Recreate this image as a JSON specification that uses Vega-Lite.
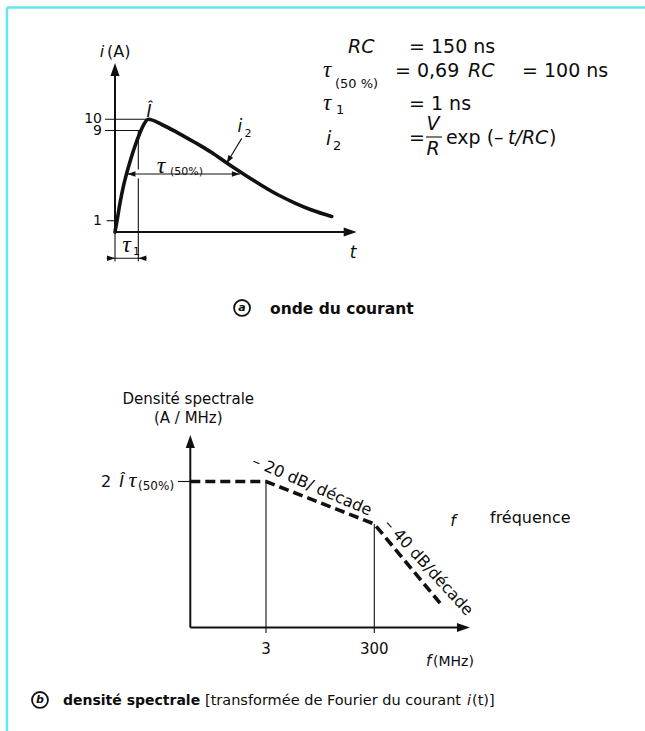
{
  "$schema": "https://vega.github.io/schema/vega-lite/v6.json",
  "width": 645,
  "height": 731,
  "autosize": {"type": "none"},
  "padding": 0,
  "background": "white",
  "config": {"view": {"stroke": null}, "font": "DejaVu Sans", "text": {"font": "DejaVu Sans", "color": "#0d0d0d"}},
  "resolve": {"scale": {"x": "independent", "y": "independent"}},
  "layer": [
    {
      "encoding": {
        "x": {"field": "t", "type": "quantitative", "scale": {"domain": [0, 220], "range": [115, 357], "zero": false, "nice": false}, "axis": null},
        "y": {"field": "i", "type": "quantitative", "scale": {"domain": [0, 10], "range": [232, 119.3], "zero": false, "nice": false}, "axis": null}
      },
      "layer": [
        {
          "data": {"values": [
            {"t": -98.2, "i": 19.92, "t_end": 481.8, "i_end": 19.92},
            {"t": -98.2, "i": 19.92, "t_end": -98.2, "i_end": -44.3}
          ]},
          "mark": {"type": "rule", "color": "#5fe9ef", "strokeWidth": 2.5},
          "encoding": {"x2": {"field": "t_end"}, "y2": {"field": "i_end"}}
        },
        {
          "data": {"values": [
            {"t": 0, "i": 0, "t_end": 0, "i_end": 14.2},
            {"t": 0, "i": 0, "t_end": 212, "i_end": 0}
          ]},
          "mark": {"type": "rule", "color": "#111111", "strokeWidth": 2},
          "encoding": {"x2": {"field": "t_end"}, "y2": {"field": "i_end"}}
        },
        {
          "data": {"values": [
            {"t": -9.1, "i": 10, "t_end": 30.3, "i_end": 10},
            {"t": -9.1, "i": 9, "t_end": 23.5, "i_end": 9},
            {"t": -7.6, "i": 1, "t_end": 0, "i_end": 1},
            {"t": 0, "i": 0, "t_end": 0, "i_end": -2.6},
            {"t": 21.2, "i": 9.0, "t_end": 21.2, "i_end": 5.55},
            {"t": 21.2, "i": 4.75, "t_end": 21.2, "i_end": -2.6},
            {"t": -7.6, "i": -2.33, "t_end": 28.8, "i_end": -2.33},
            {"t": 11.3, "i": 5.15, "t_end": 113.5, "i_end": 5.15},
            {"t": 115.2, "i": 8.31, "t_end": 101.5, "i_end": 6.1},
            {"t": 282.7, "i": 8.43, "t_end": 297.3, "i_end": 8.43}
          ]},
          "mark": {"type": "rule", "color": "#111111", "strokeWidth": 1.1},
          "encoding": {"x2": {"field": "t_end"}, "y2": {"field": "i_end"}}
        },
        {
          "data": {"values": [
            {"t": 0, "i": 0}, {"t": 2.27, "i": 1.24}, {"t": 4.55, "i": 2.57}, {"t": 7.27, "i": 3.9},
            {"t": 10.45, "i": 5.15}, {"t": 14.09, "i": 6.39}, {"t": 18.18, "i": 7.63}, {"t": 22.27, "i": 8.7},
            {"t": 25.9, "i": 9.49}, {"t": 30.3, "i": 10}, {"t": 42.5, "i": 9.54}, {"t": 57.5, "i": 8.78},
            {"t": 72.7, "i": 7.94}, {"t": 87.9, "i": 7.05}, {"t": 103, "i": 6.03}, {"t": 118.2, "i": 5.06},
            {"t": 133.4, "i": 4.13}, {"t": 148.5, "i": 3.28}, {"t": 163.6, "i": 2.57}, {"t": 178.8, "i": 1.95},
            {"t": 197, "i": 1.38}
          ]},
          "mark": {"type": "line", "color": "#111111", "strokeWidth": 3.6, "interpolate": "monotone", "strokeCap": "round"}
        },
        {
          "data": {"values": [{"t": 0, "i": 15}]},
          "mark": {"type": "point", "shape": "M0,0L0.35,1L-0.35,1Z", "size": 676, "angle": 0, "filled": true, "color": "#111111", "opacity": 1, "strokeWidth": 0}
        },
        {
          "data": {"values": [{"t": 219.7, "i": 0}]},
          "mark": {"type": "point", "shape": "M0,0L0.35,1L-0.35,1Z", "size": 676, "angle": 90, "filled": true, "color": "#111111", "opacity": 1, "strokeWidth": 0}
        },
        {
          "data": {"values": [{"t": 113.5, "i": 5.15}, {"t": 0, "i": -2.33}]},
          "mark": {"type": "point", "shape": "M0,0L0.35,1L-0.35,1Z", "size": 256, "angle": 90, "filled": true, "color": "#111111", "opacity": 1, "strokeWidth": 0}
        },
        {
          "data": {"values": [{"t": 11.3, "i": 5.15}, {"t": 21.2, "i": -2.33}]},
          "mark": {"type": "point", "shape": "M0,0L0.35,1L-0.35,1Z", "size": 256, "angle": 270, "filled": true, "color": "#111111", "opacity": 1, "strokeWidth": 0}
        },
        {
          "data": {"values": [{"t": 101.5, "i": 6.1}]},
          "mark": {"type": "point", "shape": "M0,0L0.35,1L-0.35,1Z", "size": 256, "angle": 211, "filled": true, "color": "#111111", "opacity": 1, "strokeWidth": 0}
        },
        {
          "data": {"values": [{"t": 0, "i": 10, "txt": "10"}, {"t": 0, "i": 9, "txt": "9"}, {"t": 0, "i": 1, "txt": "1"}]},
          "mark": {"type": "text", "fontSize": 14, "align": "right", "baseline": "middle", "dx": -13},
          "encoding": {"text": {"field": "txt"}}
        },
        {
          "data": {"values": [{"t": -11.8, "i": 15.57, "txt": "i"}]},
          "mark": {"type": "text", "fontSize": 16, "fontStyle": "italic", "align": "center", "baseline": "alphabetic"},
          "encoding": {"text": {"field": "txt"}}
        },
        {
          "data": {"values": [{"t": -7.3, "i": 15.57, "txt": "(A)"}]},
          "mark": {"type": "text", "fontSize": 16, "align": "left", "baseline": "alphabetic"},
          "encoding": {"text": {"field": "txt"}}
        },
        {
          "data": {"values": [
            {"t": 30.8, "i": 10.2, "txt": "Î"},
            {"t": 216.4, "i": -2.31, "txt": "t"},
            {"t": 113.6, "i": 8.87, "txt": "i"}
          ]},
          "mark": {"type": "text", "fontSize": 17, "fontStyle": "italic", "align": "center", "baseline": "alphabetic"},
          "encoding": {"text": {"field": "txt"}}
        },
        {
          "data": {"values": [{"t": 41.8, "i": 5.24, "txt": "τ"}, {"t": 10.5, "i": -1.77, "txt": "τ"}]},
          "mark": {"type": "text", "font": "Liberation Serif", "fontStyle": "italic", "fontSize": 24, "align": "center", "baseline": "alphabetic"},
          "encoding": {"text": {"field": "txt"}}
        },
        {
          "data": {"values": [
            {"t": 50, "i": 5.06, "txt": "(50%)"},
            {"t": 16.4, "i": -2.04, "txt": "1"},
            {"t": 117.7, "i": 8.43, "txt": "2"}
          ]},
          "mark": {"type": "text", "fontSize": 11, "align": "left", "baseline": "alphabetic"},
          "encoding": {"text": {"field": "txt"}}
        },
        {
          "data": {"values": [
            {"t": 267.3, "i": 15.88, "txt": "= 150 ns"},
            {"t": 254.5, "i": 13.75, "txt": "= 0,69"},
            {"t": 370, "i": 13.75, "txt": "= 100 ns"},
            {"t": 267.3, "i": 10.83, "txt": "= 1 ns"},
            {"t": 267.3, "i": 7.81, "txt": "="},
            {"t": 300.9, "i": 7.81, "txt": "exp (–"},
            {"t": 394.5, "i": 7.81, "txt": ")"}
          ]},
          "mark": {"type": "text", "fontSize": 19, "align": "left", "baseline": "alphabetic"},
          "encoding": {"text": {"field": "txt"}}
        },
        {
          "data": {"values": [
            {"t": 189.1, "i": 13.75, "txt": "τ"},
            {"t": 189.1, "i": 10.83, "txt": "τ"}
          ]},
          "mark": {"type": "text", "font": "Liberation Serif", "fontStyle": "italic", "fontSize": 23, "align": "left", "baseline": "alphabetic"},
          "encoding": {"text": {"field": "txt"}}
        },
        {
          "data": {"values": [
            {"t": 211.8, "i": 15.88, "txt": "RC"},
            {"t": 320.9, "i": 13.75, "txt": "RC"},
            {"t": 191.8, "i": 7.72, "txt": "i"},
            {"t": 357.3, "i": 7.81, "txt": "t/RC"}
          ]},
          "mark": {"type": "text", "fontSize": 19, "fontStyle": "italic", "align": "left", "baseline": "alphabetic"},
          "encoding": {"text": {"field": "txt"}}
        },
        {
          "data": {"values": [{"t": 289.1, "i": 9.05, "txt": "V"}, {"t": 289.1, "i": 6.83, "txt": "R"}]},
          "mark": {"type": "text", "fontSize": 19, "fontStyle": "italic", "align": "center", "baseline": "alphabetic"},
          "encoding": {"text": {"field": "txt"}}
        },
        {
          "data": {"values": [
            {"t": 200, "i": 12.78, "txt": "(50 %)"},
            {"t": 200.9, "i": 10.47, "txt": "1"},
            {"t": 198.2, "i": 7.28, "txt": "2"}
          ]},
          "mark": {"type": "text", "fontSize": 13, "align": "left", "baseline": "alphabetic"},
          "encoding": {"text": {"field": "txt"}}
        },
        {
          "data": {"values": [{"t": 115.5, "i": -6.74}]},
          "mark": {"type": "point", "shape": "circle", "size": 254, "filled": false, "color": "#111111", "strokeWidth": 1.8, "opacity": 1}
        },
        {
          "data": {"values": [{"t": 115.5, "i": -6.74, "txt": "a"}]},
          "mark": {"type": "text", "fontSize": 11, "fontStyle": "italic", "fontWeight": "bold", "align": "center", "baseline": "middle"},
          "encoding": {"text": {"field": "txt"}}
        },
        {
          "data": {"values": [{"t": 140.9, "i": -7.28, "txt": "onde du courant"}]},
          "mark": {"type": "text", "fontSize": 15.5, "fontWeight": "bold", "align": "left", "baseline": "alphabetic"},
          "encoding": {"text": {"field": "txt"}}
        }
      ]
    },
    {
      "encoding": {
        "x": {"field": "f", "type": "quantitative", "scale": {"type": "log", "domain": [3, 300], "range": [266, 374.3], "nice": false}, "axis": null},
        "y": {"field": "db", "type": "quantitative", "scale": {"domain": [-40, 0], "range": [524, 481.5], "zero": false, "nice": false}, "axis": null}
      },
      "layer": [
        {
          "data": {"values": [
            {"f": 0.12, "db": -137.4, "f_end": 0.12, "db_end": 39},
            {"f": 0.12, "db": -137.4, "f_end": 14000, "db_end": -137.4}
          ]},
          "mark": {"type": "rule", "color": "#111111", "strokeWidth": 2},
          "encoding": {"x2": {"field": "f_end"}, "y2": {"field": "db_end"}}
        },
        {
          "data": {"values": [
            {"f": 3, "db": 0, "f_end": 3, "db_end": -142.6},
            {"f": 300, "db": -40, "f_end": 300, "db_end": -142.6},
            {"f": 0.071, "db": 0, "f_end": 0.12, "db_end": 0}
          ]},
          "mark": {"type": "rule", "color": "#111111", "strokeWidth": 1.1},
          "encoding": {"x2": {"field": "f_end"}, "y2": {"field": "db_end"}}
        },
        {
          "data": {"values": [
            {"f": 0.12, "db": 0}, {"f": 3, "db": 0}, {"f": 300, "db": -40}, {"f": 5000, "db": -115}
          ]},
          "mark": {"type": "line", "color": "#111111", "strokeWidth": 3.6, "strokeDash": [10, 5]}
        },
        {
          "data": {"values": [{"f": 0.12, "db": 43.8}]},
          "mark": {"type": "point", "shape": "M0,0L0.35,1L-0.35,1Z", "size": 676, "angle": 0, "filled": true, "color": "#111111", "opacity": 1, "strokeWidth": 0}
        },
        {
          "data": {"values": [{"f": 17500, "db": -137.4}]},
          "mark": {"type": "point", "shape": "M0,0L0.35,1L-0.35,1Z", "size": 676, "angle": 90, "filled": true, "color": "#111111", "opacity": 1, "strokeWidth": 0}
        },
        {
          "data": {"values": [{"f": 3, "db": -157.6, "txt": "3"}, {"f": 300, "db": -157.6, "txt": "300"}]},
          "mark": {"type": "text", "fontSize": 15, "align": "center", "baseline": "middle"},
          "encoding": {"text": {"field": "txt"}}
        },
        {
          "data": {"values": [{"f": 2700, "db": -173.6, "txt": "f"}]},
          "mark": {"type": "text", "fontSize": 15, "fontStyle": "italic", "align": "left", "baseline": "alphabetic"},
          "encoding": {"text": {"field": "txt"}}
        },
        {
          "data": {"values": [{"f": 3640, "db": -173.6, "txt": "(MHz)"}]},
          "mark": {"type": "text", "fontSize": 14, "align": "left", "baseline": "alphabetic"},
          "encoding": {"text": {"field": "txt"}}
        },
        {
          "data": {"values": [
            {"f": 0.11, "db": 72.5, "txt": "Densité spectrale"},
            {"f": 0.11, "db": 55.5, "txt": "(A / MHz)"}
          ]},
          "mark": {"type": "text", "fontSize": 15, "align": "center", "baseline": "alphabetic"},
          "encoding": {"text": {"field": "txt"}}
        },
        {
          "data": {"values": [{"f": 0.00333, "db": -5.2, "txt": "2"}]},
          "mark": {"type": "text", "fontSize": 16, "align": "center", "baseline": "alphabetic"},
          "encoding": {"text": {"field": "txt"}}
        },
        {
          "data": {"values": [{"f": 0.00644, "db": -5.2, "txt": "Î"}, {"f": 8500, "db": -41.9, "txt": "f"}]},
          "mark": {"type": "text", "fontSize": 16, "fontStyle": "italic", "align": "center", "baseline": "alphabetic"},
          "encoding": {"text": {"field": "txt"}}
        },
        {
          "data": {"values": [{"f": 0.0103, "db": -5.2, "txt": "τ"}]},
          "mark": {"type": "text", "font": "Liberation Serif", "fontStyle": "italic", "fontSize": 22, "align": "center", "baseline": "alphabetic"},
          "encoding": {"text": {"field": "txt"}}
        },
        {
          "data": {"values": [{"f": 0.013, "db": -8, "txt": "(50%)"}]},
          "mark": {"type": "text", "fontSize": 12, "align": "left", "baseline": "alphabetic"},
          "encoding": {"text": {"field": "txt"}}
        },
        {
          "data": {"values": [{"f": 21.2, "db": -4.2, "txt": "– 20 dB/ décade"}]},
          "mark": {"type": "text", "fontSize": 16, "align": "center", "baseline": "middle", "angle": 23.3},
          "encoding": {"text": {"field": "txt"}}
        },
        {
          "data": {"values": [{"f": 3000, "db": -80.9, "txt": "– 40 dB/décade"}]},
          "mark": {"type": "text", "fontSize": 16, "align": "center", "baseline": "middle", "angle": 47.7},
          "encoding": {"text": {"field": "txt"}}
        },
        {
          "data": {"values": [{"f": 41100, "db": -39, "txt": "fréquence"}]},
          "mark": {"type": "text", "fontSize": 16, "align": "left", "baseline": "alphabetic"},
          "encoding": {"text": {"field": "txt"}}
        },
        {
          "data": {"values": [{"f": 0.000201, "db": -205.6}]},
          "mark": {"type": "point", "shape": "circle", "size": 254, "filled": false, "color": "#111111", "strokeWidth": 1.8, "opacity": 1}
        },
        {
          "data": {"values": [{"f": 0.000201, "db": -205.6, "txt": "b"}]},
          "mark": {"type": "text", "fontSize": 11, "fontStyle": "italic", "fontWeight": "bold", "align": "center", "baseline": "middle"},
          "encoding": {"text": {"field": "txt"}}
        },
        {
          "data": {"values": [{"f": 0.000535, "db": -210.4, "txt": "densité spectrale"}]},
          "mark": {"type": "text", "fontSize": 14, "fontWeight": "bold", "align": "left", "baseline": "alphabetic"},
          "encoding": {"text": {"field": "txt"}}
        },
        {
          "data": {"values": [{"f": 0.2241, "db": -210.4, "txt": "[transformée de Fourier du courant"}]},
          "mark": {"type": "text", "fontSize": 14.5, "align": "left", "baseline": "alphabetic"},
          "encoding": {"text": {"field": "txt"}}
        },
        {
          "data": {"values": [{"f": 15460, "db": -210.4, "txt": "i"}]},
          "mark": {"type": "text", "fontSize": 14.5, "fontStyle": "italic", "align": "left", "baseline": "alphabetic"},
          "encoding": {"text": {"field": "txt"}}
        },
        {
          "data": {"values": [{"f": 19110, "db": -210.4, "txt": "(t)]"}]},
          "mark": {"type": "text", "fontSize": 14.5, "align": "left", "baseline": "alphabetic"},
          "encoding": {"text": {"field": "txt"}}
        }
      ]
    }
  ]
}
